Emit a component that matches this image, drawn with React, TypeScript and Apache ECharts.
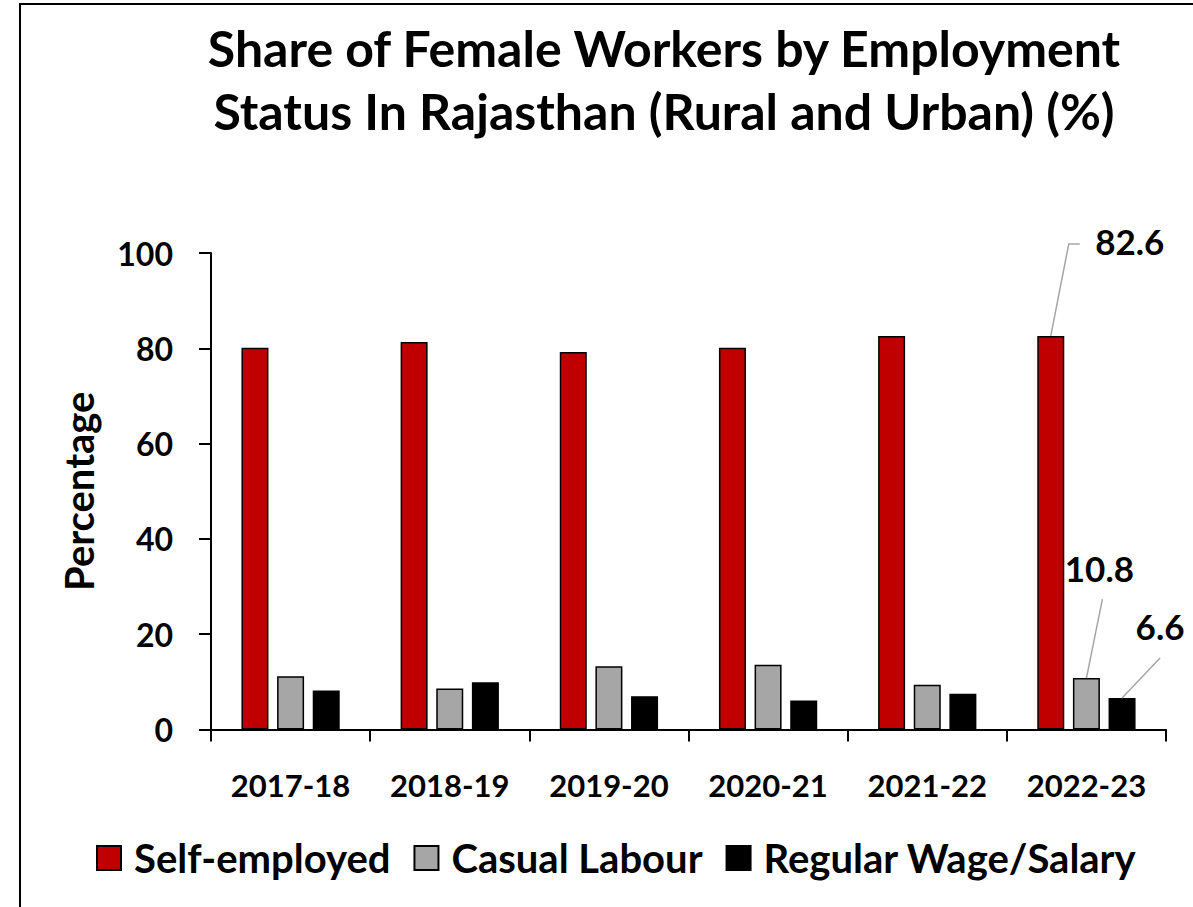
import React, { useEffect, useRef } from "react";
import * as echarts from "echarts";

const categories = ["2017-18", "2018-19", "2019-20", "2020-21", "2021-22", "2022-23"];
const selfEmployed = [80.1, 81.3, 79.2, 80.1, 82.6, 82.6];
const casualLabour = [11.2, 8.6, 13.3, 13.6, 9.4, 10.8];
const regularWage = [8.2, 9.9, 7.0, 6.1, 7.5, 6.6];
const yTicks = [0, 20, 40, 60, 80, 100];
const seriesNames = ["Self-employed", "Casual Labour", "Regular Wage/Salary"];
const labelledIndex = 5;

const FONT = "Lato";
const BAR_WIDTH = 27;
const BAR_GAP = 0.32;

// label offsets (dx, dy) relative to default 'top' label position
const labelOffsets: [number, number][] = [
  [79, -72],
  [13, -88],
  [38, -50],
];
// leader line bends relative to the bar top centre
const leaderBends: [number, number][][] = [
  [[0, 0], [18, -92], [29, -92]],
  [[0, 0], [16, -79]],
  [[0, 0], [38, -40]],
];

export default function App() {
  const ref = useRef<HTMLDivElement>(null);
  useEffect(() => {
    if (!ref.current) return;
    const chart = echarts.init(ref.current, null, { renderer: "svg" });
    const allSeries = [selfEmployed, casualLabour, regularWage];
    const mkData = (arr: number[]) =>
      arr.map((v, i) =>
        i === labelledIndex ? { value: v, label: { show: true } } : { value: v }
      );
    const mkSeries = (si: number, color: string) => ({
      name: seriesNames[si],
      type: "bar",
      data: mkData(allSeries[si]),
      barWidth: BAR_WIDTH,
      barGap: BAR_GAP * 100 + "%",
      itemStyle: { color, borderColor: "#000", borderWidth: 1.5 },
      label: {
        show: false,
        position: "top",
        fontFamily: FONT,
        fontWeight: "bold",
        fontSize: 35,
        color: "#000",
      },
      labelLine: { show: false },
      labelLayout: (params: any) => {
        if (params.dataIndex !== labelledIndex) return {};
        const [dx, dy] = labelOffsets[si];
        return { dx, dy };
      },
    });
    const leaderData = allSeries.map((arr, si) => [
      categories[labelledIndex],
      arr[labelledIndex],
      si,
    ]);
    const spacing = BAR_WIDTH * (1 + BAR_GAP);
    chart.setOption({
      animation: false,
      backgroundColor: "#fff",
      textStyle: { fontFamily: FONT },
      title: {
        text: "Share of Female Workers by Employment\nStatus In Rajasthan (Rural and Urban) (%)",
        left: 659,
        top: 11,
        textAlign: "center",
        textStyle: {
          fontFamily: FONT,
          fontWeight: "bold",
          fontSize: 50,
          lineHeight: 63,
          color: "#000",
        },
      },
      graphic: [
        { type: "line", shape: { x1: 20, y1: 4, x2: 20, y2: 907 }, style: { stroke: "#000", lineWidth: 2 } },
        { type: "line", shape: { x1: 19, y1: 4, x2: 1193, y2: 4 }, style: { stroke: "#000", lineWidth: 2 } },
      ],
      legend: {
        top: 838,
        left: 96,
        padding: 0,
        itemWidth: 24,
        itemHeight: 24,
        itemGap: 23,
        icon: "rect",
        textStyle: { fontFamily: FONT, fontWeight: "bold", fontSize: 40, color: "#000", padding: [0, 0, 0, 8] },
        data: seriesNames,
      },
      grid: { left: 211, right: 27, top: 253, bottom: 177.5, containLabel: false },
      xAxis: {
        type: "category",
        data: categories,
        axisLine: { lineStyle: { color: "#000", width: 2 } },
        axisTick: { show: true, length: 12, lineStyle: { color: "#000", width: 2 } },
        axisLabel: { fontFamily: FONT, fontWeight: "bold", fontSize: 31, color: "#000", margin: 40 },
      },
      yAxis: {
        type: "value",
        min: yTicks[0],
        max: yTicks[yTicks.length - 1],
        interval: 20,
        name: "Percentage",
        nameLocation: "middle",
        nameRotate: 90,
        nameGap: 112,
        nameTextStyle: { fontFamily: FONT, fontWeight: "bold", fontSize: 40, color: "#000" },
        splitLine: { show: false },
        axisLine: { show: true, lineStyle: { color: "#000", width: 2 } },
        axisTick: { show: true, length: 12, lineStyle: { color: "#000", width: 2 } },
        axisLabel: { fontFamily: FONT, fontWeight: "bold", fontSize: 32, color: "#000", margin: 38 },
      },
      series: [
        mkSeries(0, "#C00000"),
        mkSeries(1, "#A6A6A6"),
        mkSeries(2, "#000000"),
        {
          type: "custom",
          name: "leaders",
          silent: true,
          z: 5,
          data: leaderData,
          renderItem: (params: any, api: any) => {
            const p = api.coord([api.value(0), api.value(1)]);
            const si = api.value(2);
            const cx = p[0] + (si - 1) * spacing;
            const pts = leaderBends[si].map(([dx, dy]) => [cx + dx, p[1] + dy]);
            return {
              type: "polyline",
              shape: { points: pts },
              style: { stroke: "#A6A6A6", lineWidth: 1.5, fill: null },
            };
          },
        },
      ],
    });
    return () => chart.dispose();
  }, []);
  return (
    <div
      ref={ref}
      style={{ position: "fixed", left: 0, top: 0, width: 1193, height: 907, background: "#fff" }}
    />
  );
}
